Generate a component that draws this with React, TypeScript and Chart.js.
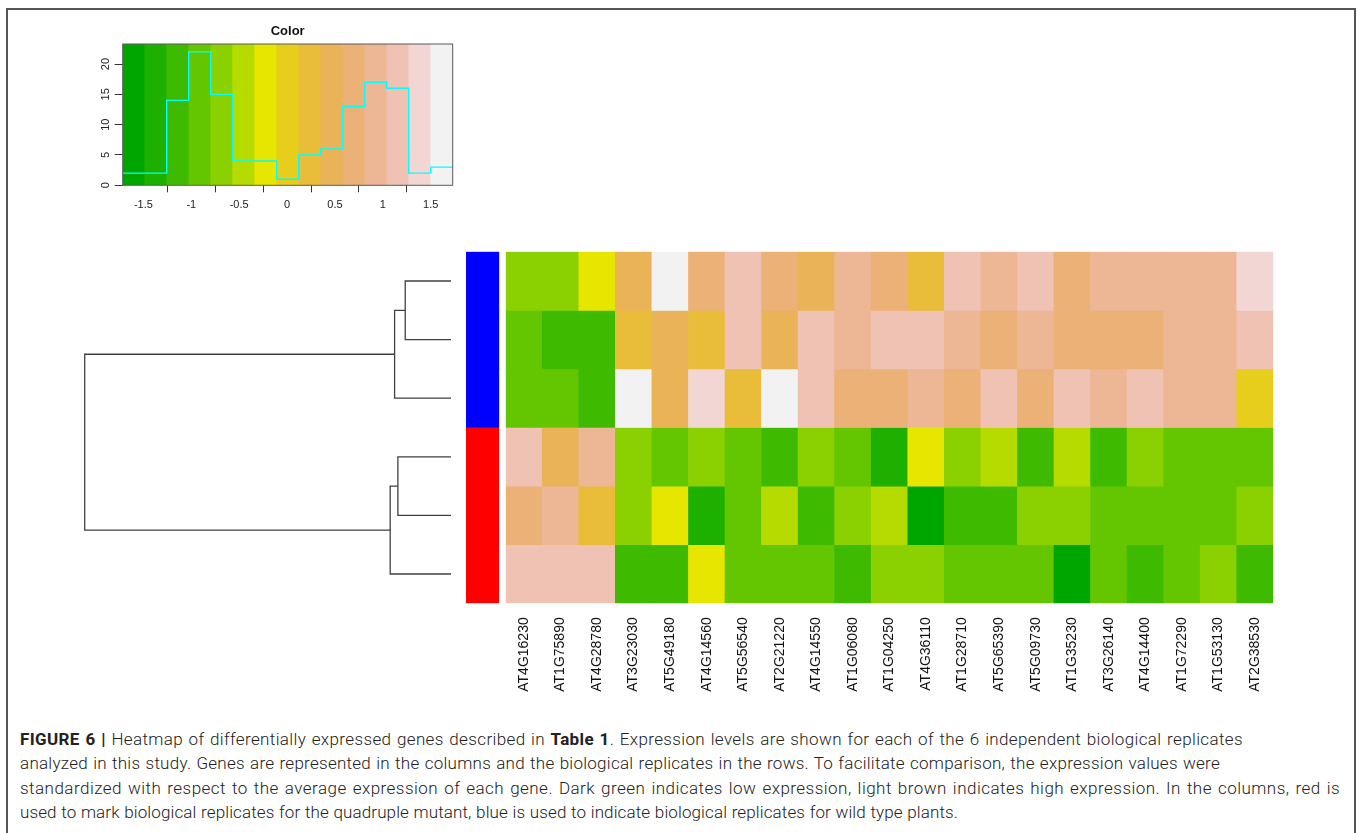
import React, { useEffect, useLayoutEffect, useRef } from "react";
import { Chart, registerables } from "chart.js";

Chart.register(...registerables);

// ---------------- data ----------------
const genes = [
  "AT4G16230", "AT1G75890", "AT4G28780", "AT3G23030", "AT5G49180", "AT4G14560",
  "AT5G56540", "AT2G21220", "AT4G14550", "AT1G06080", "AT1G04250", "AT4G36110",
  "AT1G28710", "AT5G65390", "AT5G09730", "AT1G35230", "AT3G26140", "AT4G14400",
  "AT1G72290", "AT1G53130", "AT2G38530",
];

const replicates = ["WT-1", "WT-2", "WT-3", "qm-1", "qm-2", "qm-3"];
const replicateGroup = ["wild type", "wild type", "wild type", "quadruple mutant", "quadruple mutant", "quadruple mutant"];
const groupColor: Record<string, string> = { "wild type": "#0000FF", "quadruple mutant": "#FF0000" };

// standardized expression (rows = replicates in dendrogram order, columns = genes)
const exprWT1 = [-0.68, -0.68, -0.22, 0.47, 1.61, 0.70, 1.16, 0.70, 0.47, 0.93, 0.70, 0.24, 1.16, 0.93, 1.16, 0.70, 0.93, 0.93, 0.93, 0.93, 1.39];
const exprWT2 = [-0.91, -1.14, -1.14, 0.24, 0.47, 0.24, 1.16, 0.47, 1.16, 0.93, 1.16, 1.16, 0.93, 0.70, 0.93, 0.70, 0.70, 0.70, 0.93, 0.93, 1.16];
const exprWT3 = [-0.91, -0.91, -1.14, 1.61, 0.47, 1.39, 0.24, 1.61, 1.16, 0.70, 0.70, 0.93, 0.70, 1.16, 0.70, 1.16, 0.93, 1.16, 0.93, 0.93, 0.01];
const exprQM1 = [1.16, 0.47, 0.93, -0.68, -0.91, -0.68, -0.91, -1.14, -0.68, -0.91, -1.37, -0.22, -0.68, -0.45, -1.14, -0.45, -1.14, -0.68, -0.91, -0.91, -0.91];
const exprQM2 = [0.70, 0.93, 0.24, -0.68, -0.22, -1.37, -0.91, -0.45, -1.14, -0.68, -0.45, -1.60, -1.14, -1.14, -0.68, -0.68, -0.91, -0.91, -0.91, -0.91, -0.68];
const exprQM3 = [1.16, 1.16, 1.16, -1.14, -1.14, -0.22, -0.91, -0.91, -0.91, -1.14, -0.68, -0.68, -0.91, -0.91, -0.91, -1.60, -0.91, -1.14, -0.91, -0.68, -1.14];
const exprRows = [exprWT1, exprWT2, exprWT3, exprQM1, exprQM2, exprQM3];

// colour key (terrain.colors(15)) and breaks
const keyColors = [
  "#00A600", "#1DB000", "#3EBB00", "#63C600", "#8BD000", "#B6DB00", "#E6E600", "#E7CE1D",
  "#E9BD3A", "#EAB358", "#ECB176", "#EDB694", "#EFC2B3", "#F1D6D3", "#F2F2F2",
];
const keyBreaks = [-1.716, -1.486, -1.257, -1.027, -0.797, -0.568, -0.338, -0.108, 0.122, 0.351, 0.581, 0.811, 1.040, 1.270, 1.500, 1.729];
const keyTicksX = [-1.5, -1, -0.5, 0, 0.5, 1, 1.5];
const keyTicksY = [0, 5, 10, 15, 20];
const keyYMax = 23.3;
const keyTitle = "Color";

// row dendrogram (hclust style merge matrix, negative = leaf)
const dendroMerge = [[-1, -2], [1, -3], [-4, -5], [3, -6], [2, 4]];
const dendroHeight = [1.25, 1.54, 1.45, 1.66, 10.0];

const captionLines = [
  [["b", "FIGURE 6 |"], ["n", " Heatmap of differentially expressed genes described in "], ["b", "Table 1"], ["n", ". Expression levels are shown for each of the 6 independent biological replicates"]],
  [["n", "analyzed in this study. Genes are represented in the columns and the biological replicates in the rows. To facilitate comparison, the expression values were"]],
  [["n", "standardized with respect to the average expression of each gene. Dark green indicates low expression, light brown indicates high expression. In the columns, red is"]],
  [["n", "used to mark biological replicates for the quadruple mutant, blue is used to indicate biological replicates for wild type plants."]],
];
// measured line lengths of the caption in the figure (px)
const captionLineWidths = [1223, 1200, 1320, 938];

// ---------------- helpers ----------------
function binIndex(v: number): number {
  for (let i = 0; i < keyColors.length; i++) {
    if (v < keyBreaks[i + 1]) return i;
  }
  return keyColors.length - 1;
}
function colorFor(v: number): string {
  return keyColors[binIndex(v)];
}

function histogramCounts(): number[] {
  const counts = keyColors.map(() => 0);
  exprRows.forEach((r) => r.forEach((v) => { counts[binIndex(v)]++; }));
  return counts;
}

function dendroSegments() {
  const nodes: { y: number; h: number }[] = [];
  const pos = (id: number) => (id < 0 ? { y: -id - 0.5, h: 0 } : nodes[id - 1]);
  const segs: { x: number; y: number }[][] = [];
  dendroMerge.forEach(([a, b], i) => {
    const pa = pos(a);
    const pb = pos(b);
    const h = dendroHeight[i];
    segs.push([
      { x: pa.h, y: pa.y },
      { x: h, y: pa.y },
      { x: h, y: pb.y },
      { x: pb.h, y: pb.y },
    ]);
    nodes.push({ y: (pa.y + pb.y) / 2, h });
  });
  return segs;
}

const FONT = '"Liberation Sans", Arial, sans-serif';

// ---------------- charts ----------------
function ColorKey() {
  const ref = useRef<HTMLCanvasElement>(null);
  useEffect(() => {
    const counts = histogramCounts();
    const stepPts = keyBreaks.map((b, i) => ({ x: b, y: counts[Math.min(i, counts.length - 1)] }));
    const binPts = keyColors.map((_, i) => ({ x: (keyBreaks[i] + keyBreaks[i + 1]) / 2, y: keyYMax }));
    const deco = {
      id: "keyDeco",
      afterDatasetsDraw(chart: any) {
        const { ctx, chartArea: a, scales } = chart;
        ctx.save();
        ctx.strokeStyle = "#5a5a5a";
        ctx.lineWidth = 1;
        ctx.strokeRect(a.left, a.top, a.right - a.left, a.bottom - a.top);
        const ys = scales.y;
        ctx.fillStyle = "#222";
        ctx.font = "11px " + FONT;
        ctx.textAlign = "center";
        ctx.textBaseline = "middle";
        ys.ticks.forEach((t: any) => {
          const py = ys.getPixelForValue(t.value);
          ctx.save();
          ctx.translate(a.left - 17, py);
          ctx.rotate(-Math.PI / 2);
          ctx.fillText(String(t.value), 0, 0);
          ctx.restore();
        });
        ctx.fillStyle = "#111";
        ctx.font = "bold 13px " + FONT;
        ctx.fillText(keyTitle, (a.left + a.right) / 2, a.top - 12.3);
        ctx.restore();
      },
    };
    const chart = new Chart(ref.current!, {
      type: "bar",
      data: {
        datasets: [
          {
            type: "line",
            data: stepPts,
            stepped: "before",
            borderColor: "#00FFFF",
            borderWidth: 1.4,
            pointRadius: 0,
            order: 1,
          } as any,
          {
            type: "bar",
            data: binPts,
            backgroundColor: keyColors,
            borderWidth: 0,
            barPercentage: 1,
            categoryPercentage: 1,
            order: 2,
          } as any,
        ],
      },
      options: {
        responsive: false,
        animation: false,
        events: [],
        layout: { padding: { left: 0, right: 17.3, top: 24, bottom: 0 } },
        plugins: {
          legend: { display: false },
          tooltip: { enabled: false },
          title: { display: false },
        },
        scales: {
          x: {
            type: "linear",
            min: keyBreaks[0],
            max: keyBreaks[keyBreaks.length - 1],
            offset: false,
            afterBuildTicks: (s: any) => { s.ticks = keyTicksX.map((v) => ({ value: v })); },
            afterFit: (s: any) => { s.height = 44.7; },
            grid: { drawOnChartArea: false, drawTicks: true, tickLength: 7, tickColor: "#333" },
            border: { display: false },
            ticks: { color: "#222", font: { family: FONT, size: 11 }, padding: 6, callback: (v: any) => String(v) },
          },
          y: {
            type: "linear",
            min: 0,
            max: keyYMax,
            afterBuildTicks: (s: any) => { s.ticks = keyTicksY.map((v) => ({ value: v })); },
            afterFit: (s: any) => { s.width = 52.7; },
            grid: { drawOnChartArea: false, drawTicks: true, tickLength: 8, tickColor: "#333" },
            border: { display: false },
            ticks: { display: false },
          },
        },
      },
      plugins: [deco],
    } as any);
    return () => chart.destroy();
  }, []);
  return <canvas ref={ref} width={400} height={210} style={{ position: "absolute", left: 70, top: 20, width: 400, height: 210 }} />;
}

function Dendrogram() {
  const ref = useRef<HTMLCanvasElement>(null);
  useEffect(() => {
    const segs = dendroSegments();
    const chart = new Chart(ref.current!, {
      type: "scatter",
      data: {
        datasets: segs.map((s) => ({
          data: s,
          showLine: true,
          borderColor: "#404040",
          borderWidth: 1.3,
          pointRadius: 0,
          clip: 6,
        })),
      },
      options: {
        responsive: false,
        animation: false,
        events: [],
        layout: { padding: { left: 24.7, right: 9, top: 11.7, bottom: 11.7 } },
        plugins: { legend: { display: false }, tooltip: { enabled: false } },
        scales: {
          x: { type: "linear", min: 0, max: dendroHeight[dendroHeight.length - 1], reverse: true, display: false },
          y: { type: "linear", min: 0, max: replicates.length, reverse: true, display: false },
        },
      },
    } as any);
    return () => chart.destroy();
  }, []);
  return <canvas ref={ref} width={400} height={375} style={{ position: "absolute", left: 60, top: 240, width: 400, height: 375 }} />;
}

function SideBar() {
  const ref = useRef<HTMLCanvasElement>(null);
  useEffect(() => {
    const chart = new Chart(ref.current!, {
      type: "bar",
      data: {
        labels: ["group"],
        datasets: replicates.map((r, i) => ({
          label: r,
          data: [[i, i + 1]],
          backgroundColor: groupColor[replicateGroup[i]],
          borderWidth: 0,
          barPercentage: 1,
          categoryPercentage: 1,
        })),
      },
      options: {
        responsive: false,
        animation: false,
        events: [],
        layout: { padding: { left: 0, right: 0.7, top: 0.7, bottom: 0.7 } },
        plugins: { legend: { display: false }, tooltip: { enabled: false } },
        scales: {
          x: { stacked: true, display: false },
          y: { type: "linear", min: 0, max: replicates.length, reverse: true, display: false },
        },
      },
    } as any);
    return () => chart.destroy();
  }, []);
  return <canvas ref={ref} width={34} height={353} style={{ position: "absolute", left: 466, top: 251, width: 34, height: 353 }} />;
}

function Heatmap() {
  const ref = useRef<HTMLCanvasElement>(null);
  useEffect(() => {
    const chart = new Chart(ref.current!, {
      type: "bar",
      data: {
        labels: genes,
        datasets: exprRows.map((row, i) => ({
          label: replicates[i],
          data: row.map(() => [i, i + 1]),
          backgroundColor: row.map(colorFor),
          borderWidth: 0,
          barPercentage: 1,
          categoryPercentage: 1,
        })),
      },
      options: {
        responsive: false,
        animation: false,
        events: [],
        layout: { padding: { left: 5.7, right: 16.7, top: 6.7, bottom: 0 } },
        plugins: { legend: { display: false }, tooltip: { enabled: false } },
        scales: {
          x: {
            stacked: true,
            afterFit: (s: any) => { s.height = 106.7; },
            grid: { display: false },
            border: { display: false },
            ticks: {
              autoSkip: false,
              minRotation: 90,
              maxRotation: 90,
              padding: 6,
              color: "#111",
              font: { family: FONT, size: 14 },
            },
          },
          y: { type: "linear", min: 0, max: replicates.length, reverse: true, display: false },
        },
      },
    } as any);
    return () => chart.destroy();
  }, []);
  return <canvas ref={ref} width={790} height={465} style={{ position: "absolute", left: 500, top: 245, width: 790, height: 465 }} />;
}

function Caption() {
  const lineRefs = useRef<(HTMLSpanElement | null)[]>([]);
  useLayoutEffect(() => {
    const fit = () => {
      lineRefs.current.forEach((el, i) => {
        if (!el) return;
        el.style.wordSpacing = "0px";
        el.style.letterSpacing = "0px";
        const w = el.getBoundingClientRect().width;
        const text = el.textContent || "";
        const spaces = text.split(" ").length - 1;
        const d = captionLineWidths[i] - w;
        el.style.letterSpacing = ((d * 0.7) / text.length).toFixed(3) + "px";
        if (spaces > 0) el.style.wordSpacing = ((d * 0.3) / spaces).toFixed(3) + "px";
      });
    };
    fit();
    if ((document as any).fonts && (document as any).fonts.ready) (document as any).fonts.ready.then(fit);
  }, []);
  return (
    <div style={{ position: "absolute", left: 20, top: 727, fontFamily: "Roboto, sans-serif", fontWeight: 300, fontSize: 17, color: "#222" }}>
      {captionLines.map((line, i) => (
        <div key={i} style={{ whiteSpace: "nowrap", lineHeight: "24.3px", height: 24.3 }}>
          <span ref={(el) => { lineRefs.current[i] = el; }} style={{ display: "inline-block" }}>
            {line.map(([k, t], j) => (
              <span key={j} style={{ fontWeight: k === "b" ? 700 : 300 }}>{t}</span>
            ))}
          </span>
        </div>
      ))}
    </div>
  );
}

export default function App() {
  return (
    <div style={{ position: "absolute", left: 0, top: 0, width: 1358, height: 833, overflow: "hidden", background: "#fff" }}>
      <div style={{ position: "absolute", left: 6, top: 8, width: 1346, height: 900, border: "2px solid #555" }} />
      <ColorKey />
      <Dendrogram />
      <SideBar />
      <Heatmap />
      <Caption />
    </div>
  );
}
